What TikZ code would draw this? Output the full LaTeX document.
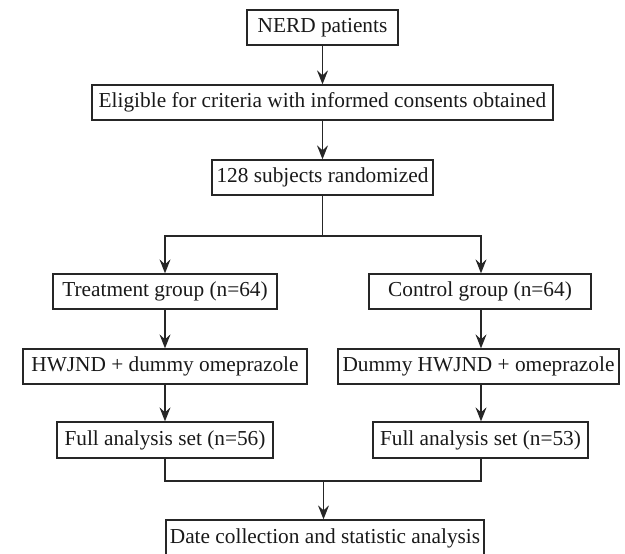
\documentclass[tikz,border=0pt]{standalone}
\usepackage{fontspec}
\setmainfont{Liberation Serif}
\usetikzlibrary{arrows.meta}
\begin{document}
\begin{tikzpicture}[x=1bp,y=-1bp,
  box/.style={draw=black!85, line width=1.3pt, rectangle, inner sep=0pt,
    minimum height=35bp, font=\fontsize{21.4}{25}\selectfont, text=black!90},
  conn/.style={draw=black!85, line width=1.3pt},
  arr/.style={conn, -{Stealth[length=14bp,width=11bp,inset=5bp]}}]
\useasboundingbox (0,0) rectangle (625,554);
\node[box, minimum width=151bp] (n) at (322.5,27.5) {NERD patients};
\node[box, minimum width=461bp] (e) at (322.5,102.5) {Eligible for criteria with informed consents obtained};
\node[box, minimum width=221bp] (r) at (322.5,177.5) {128 subjects randomized};
\node[box, minimum width=224bp] (t) at (165,291.5) {Treatment group (n=64)};
\node[box, minimum width=222bp] (c) at (480,291.5) {Control group (n=64)};
\node[box, minimum width=284bp] (h) at (165,366.5) {HWJND + dummy omeprazole};
\node[box, minimum width=281bp] (d) at (478.5,366.5) {Dummy HWJND + omeprazole};
\node[box, minimum width=216bp, minimum height=36bp] (f1) at (165,440) {Full analysis set (n=56)};
\node[box, minimum width=215bp, minimum height=36bp] (f2) at (480.5,440) {Full analysis set (n=53)};
\node[box, minimum width=318bp, minimum height=36bp] (s) at (325,538) {Date collection and statistic analysis};
\coordinate (bl) at (165,236);
\coordinate (br) at (481,236);
\coordinate (bm) at (322.5,236);
\coordinate (jl) at (165,481);
\coordinate (jr) at (481,481);
\coordinate (jm) at (323.5,481);
\draw[arr] (n.south) -- (e.north);
\draw[arr] (e.south) -- (r.north);
\draw[conn] (r.south) -- (bm);
\draw[arr] (bm) -- (bl) -- (t.north);
\draw[arr] (bm) -- (br) -- (br |- c.north);
\draw[arr] (t.south) -- (h.north);
\draw[arr] (br |- c.south) -- (br |- d.north);
\draw[arr] (h.south) -- (f1.north);
\draw[arr] (br |- d.south) -- (br |- f2.north);
\draw[conn] (f1.south) -- (jl) -- (jr) -- (jr |- f2.south);
\draw[arr] (jm) -- (jm |- s.north);
\end{tikzpicture}
\end{document}
